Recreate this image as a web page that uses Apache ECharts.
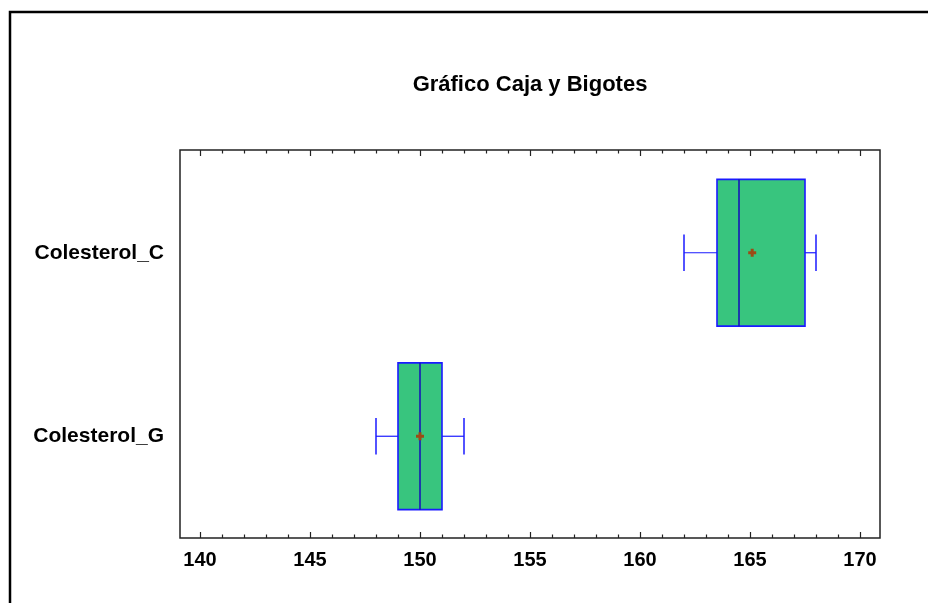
<!DOCTYPE html>
<html>
<head>
<meta charset="utf-8">
<script src="https://cdn.jsdelivr.net/npm/echarts@6/dist/echarts.min.js"></script>
<style>
  html, body { margin: 0; padding: 0; background: #fff; }
  #chart { width: 928px; height: 603px; }
</style>
</head>
<body>
<div id="chart"></div>
<script>
// variables, bottom to top
const categories = ['Colesterol_G', 'Colesterol_C'];
// [min, q1, median, q3, max]
const boxStats = [
  [148.0, 149.0, 150.0, 151.0, 152.0],
  [162.0, 163.5, 164.5, 167.5, 168.0]
];
const means = [150.0, 165.1];
const xTicks = [140, 145, 150, 155, 160, 165, 170];

const FONT = 'Liberation Sans, Arial, sans-serif';

const chart = echarts.init(document.getElementById('chart'));

const seriesData = categories.map((c, i) => [i].concat(boxStats[i], [means[i]]));

function renderBox(params, api) {
  const cat = api.value(0);
  const lo = api.coord([api.value(1), cat]);
  const q1 = api.coord([api.value(2), cat]);
  const med = api.coord([api.value(3), cat]);
  const q3 = api.coord([api.value(4), cat]);
  const hi = api.coord([api.value(5), cat]);
  const mean = api.coord([api.value(6), cat]);
  const band = api.size([0, 1])[1];
  const h = band * 0.8;
  const cap = band * 0.2;
  const y = lo[1];
  const blue = '#1a1aff';
  return {
    type: 'group',
    children: [
      { type: 'line', shape: { x1: lo[0], y1: y, x2: q1[0], y2: y }, style: { stroke: blue, lineWidth: 1.2 } },
      { type: 'line', shape: { x1: q3[0], y1: y, x2: hi[0], y2: y }, style: { stroke: blue, lineWidth: 1.2 } },
      { type: 'line', shape: { x1: lo[0], y1: y - cap / 2, x2: lo[0], y2: y + cap / 2 }, style: { stroke: blue, lineWidth: 1.5 } },
      { type: 'line', shape: { x1: hi[0], y1: y - cap / 2, x2: hi[0], y2: y + cap / 2 }, style: { stroke: blue, lineWidth: 1.5 } },
      { type: 'rect', shape: { x: q1[0], y: y - h / 2, width: q3[0] - q1[0], height: h },
        style: { fill: '#38c57e', stroke: blue, lineWidth: 1.6 } },
      { type: 'line', shape: { x1: med[0], y1: y - h / 2, x2: med[0], y2: y + h / 2 }, style: { stroke: '#1616b8', lineWidth: 1.6 } },
      { type: 'line', shape: { x1: mean[0] - 4, y1: y, x2: mean[0] + 4, y2: y }, style: { stroke: '#9c4a16', lineWidth: 3 } },
      { type: 'line', shape: { x1: mean[0], y1: y - 4, x2: mean[0], y2: y + 4 }, style: { stroke: '#9c4a16', lineWidth: 3 } }
    ]
  };
}

const tickAxis = {
  min: xTicks[0],
  max: xTicks[xTicks.length - 1],
  interval: 5,
  axisLine: { show: false },
  splitLine: { show: false },
  axisTick: { show: true, inside: true, length: 6, lineStyle: { color: '#222', width: 1.2 } },
  minorTick: { show: true, splitNumber: 5, length: 3.5, lineStyle: { color: '#222', width: 1.2 } }
};

chart.setOption({
  animation: false,
  backgroundColor: '#fff',
  grid: [
    { left: 180, top: 150, width: 700, height: 388, show: true, borderColor: '#222', borderWidth: 1.5, backgroundColor: 'transparent' },
    { left: 200, top: 150, width: 660, height: 388 },
    { left: 200, top: 161, width: 660, height: 367 }
  ],
  xAxis: [
    { gridIndex: 0, type: 'value', show: false, min: 0, max: 1 },
    Object.assign({ gridIndex: 1, type: 'value', position: 'bottom',
      axisLabel: { show: true, margin: 12, fontFamily: FONT, fontWeight: 'bold', fontSize: 20, color: '#000' } }, tickAxis),
    Object.assign({ gridIndex: 1, type: 'value', position: 'top', axisLabel: { show: false } }, tickAxis),
    { gridIndex: 2, type: 'value', show: false, min: xTicks[0], max: xTicks[xTicks.length - 1] }
  ],
  yAxis: [
    { gridIndex: 0, type: 'value', show: false, min: 0, max: 1 },
    { gridIndex: 1, type: 'value', show: false, min: 0, max: 1 },
    { gridIndex: 2, type: 'category', data: categories,
      axisLine: { show: false }, axisTick: { show: false }, splitLine: { show: false },
      axisLabel: { margin: 36, fontFamily: FONT, fontWeight: 'bold', fontSize: 21, color: '#000' } }
  ],
  graphic: [
    { type: 'rect', shape: { x: 10, y: 12, width: 940, height: 620 }, style: { fill: 'none', stroke: '#000', lineWidth: 2.5 } },
    { type: 'text', x: 530, y: 85, style: { text: 'Gráfico Caja y Bigotes', align: 'center', verticalAlign: 'middle',
      font: 'bold 22px ' + FONT, fill: '#000' } }
  ],
  series: [
    {
      type: 'custom',
      xAxisIndex: 3,
      yAxisIndex: 2,
      renderItem: renderBox,
      encode: { x: [1, 2, 3, 4, 5, 6], y: 0 },
      data: seriesData
    }
  ]
});
</script>
</body>
</html>
